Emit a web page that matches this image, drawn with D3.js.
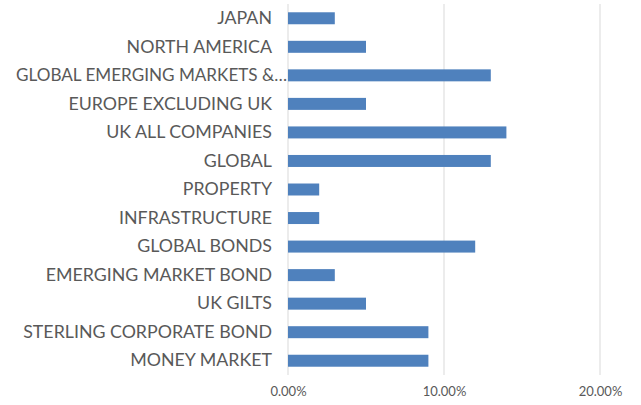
<!DOCTYPE html>
<html>
<head>
<meta charset="utf-8">
<script src="https://cdn.jsdelivr.net/npm/d3@7"></script>
<style>
  body { margin: 0; background: #fff; }
  text { font-family: Lato, "Open Sans", sans-serif; }
</style>
</head>
<body>
<div id="chart"></div>
<script>
const categories = [
    'JAPAN',
    'NORTH AMERICA',
    'GLOBAL EMERGING MARKETS &…',
    'EUROPE EXCLUDING UK',
    'UK ALL COMPANIES',
    'GLOBAL',
    'PROPERTY',
    'INFRASTRUCTURE',
    'GLOBAL BONDS',
    'EMERGING MARKET BOND',
    'UK GILTS',
    'STERLING CORPORATE BOND',
    'MONEY MARKET'
];
const values = [0.03, 0.05, 0.13, 0.05, 0.14, 0.13, 0.02, 0.02, 0.12, 0.03, 0.05, 0.09, 0.09];
const tickValues = [0, 0.1, 0.2];

const width = 641;
const height = 405;
const margin = { top: 4, right: 41, bottom: 30, left: 288 };

const svg = d3.select('#chart')
    .append('svg')
    .attr('width', width)
    .attr('height', height);

const xScale = d3.scaleLinear()
    .domain([0, 0.2])
    .range([margin.left, width - margin.right]);

const yScale = d3.scaleBand()
    .domain(categories)
    .range([margin.top, height - margin.bottom])
    .paddingInner(0.58)
    .paddingOuter(0.29);

// gridlines
svg.append('g')
    .selectAll('line')
    .data(tickValues)
    .enter()
    .append('line')
    .attr('x1', d => xScale(d))
    .attr('x2', d => xScale(d))
    .attr('y1', margin.top)
    .attr('y2', height - margin.bottom)
    .attr('stroke', '#d9d9d9')
    .attr('stroke-width', 1);

// bars
svg.append('g')
    .selectAll('rect')
    .data(values)
    .enter()
    .append('rect')
    .attr('x', xScale(0))
    .attr('y', (d, i) => yScale(categories[i]))
    .attr('width', d => xScale(d) - xScale(0))
    .attr('height', yScale.bandwidth())
    .attr('fill', '#4f81bd');

// category labels
const yAxis = d3.axisLeft(yScale).tickSize(0).tickPadding(16);
svg.append('g')
    .attr('transform', `translate(${margin.left}, 0)`)
    .call(yAxis)
    .call(g => g.select('.domain').remove())
    .selectAll('text')
    .attr('fill', '#595959')
    .style('font-size', '17.8px')
    .filter(d => d.endsWith('…'))
    // the truncated label runs right up to the axis, like in the original
    .attr('x', -1)
    .attr('textLength', 271)
    .attr('lengthAdjust', 'spacingAndGlyphs');

// x axis labels
const xAxis = d3.axisBottom(xScale)
    .tickValues(tickValues)
    .tickFormat(d3.format('.2%'))
    .tickSize(0)
    .tickPadding(12);
svg.append('g')
    .attr('transform', `translate(0, ${height - margin.bottom})`)
    .call(xAxis)
    .call(g => g.select('.domain').remove())
    .selectAll('text')
    .attr('fill', '#595959')
    .style('font-size', '13px');
</script>
</body>
</html>
